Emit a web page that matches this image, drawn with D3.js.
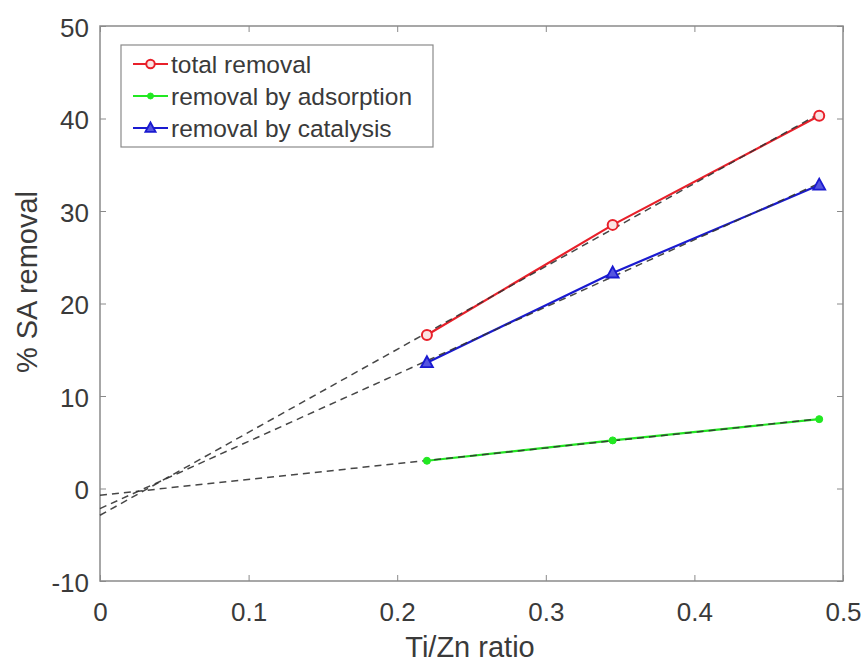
<!DOCTYPE html>
<html><head><meta charset="utf-8">
<script src="https://cdn.jsdelivr.net/npm/d3@7"></script>
<style>body{margin:0;background:#fff;} svg{display:block;font-family:Arial,"Liberation Sans",sans-serif;}</style>
</head><body>
<svg id="c" width="868" height="663"></svg>
<script>
const ratios = [0.22, 0.345, 0.484];
const totalRemoval = [16.6, 28.5, 40.3];
const adsorptionRemoval = [3.0, 5.2, 7.5];
const catalysisRemoval = [13.6, 23.3, 32.8];
const xTicks = [0, 0.1, 0.2, 0.3, 0.4, 0.5];
const yTicks = [-10, 0, 10, 20, 30, 40, 50];
const seriesNames = ["total removal", "removal by adsorption", "removal by catalysis"];

const svg = d3.select("#c");
const L = 100, R = 843, T = 26, B = 581;
const x = d3.scaleLinear().domain([0, 0.5]).range([L, R]);
const y = d3.scaleLinear().domain([-10, 50]).range([B, T]);
const axisCol = "#8a8a8a", textCol = "#3a3a3a";

// box
svg.append("rect").attr("x", L).attr("y", T).attr("width", R - L).attr("height", B - T)
  .attr("fill", "none").attr("stroke", axisCol).attr("stroke-width", 1.5);

const fmt = d => String(d);
const ax = svg.append("g").attr("transform", `translate(0,${B})`)
  .call(d3.axisBottom(x).tickValues(xTicks).tickSize(-6).tickPadding(22).tickFormat(fmt));
const axT = svg.append("g").attr("transform", `translate(0,${T})`)
  .call(d3.axisTop(x).tickValues(xTicks).tickSize(-6).tickFormat(""));
const ay = svg.append("g").attr("transform", `translate(${L},0)`)
  .call(d3.axisLeft(y).tickValues(yTicks).tickSize(-6).tickPadding(11).tickFormat(fmt));
const ayR = svg.append("g").attr("transform", `translate(${R},0)`)
  .call(d3.axisRight(y).tickValues(yTicks).tickSize(-6).tickFormat(""));
[ax, axT, ay, ayR].forEach(g => {
  g.select(".domain").remove();
  g.selectAll("line").attr("stroke", axisCol).attr("stroke-width", 1);
  g.selectAll("text").attr("fill", textCol).style("font-size", "26px");
});
ax.selectAll("text").attr("dy", "0.71em").attr("y", 22);
ay.selectAll("text").attr("dy", "0.4em");

// labels
svg.append("text").attr("x", 470).attr("y", 657).attr("text-anchor", "middle")
  .attr("fill", textCol).style("font-size", "29px").text("Ti/Zn ratio");
svg.append("text").attr("transform", `translate(37,282) rotate(-90)`).attr("text-anchor", "middle")
  .attr("fill", textCol).style("font-size", "29px").text("% SA removal");

const series = [
  {vals: totalRemoval, color: "#e8202a", marker: "circle"},
  {vals: adsorptionRemoval, color: "#22e822", marker: "dot"},
  {vals: catalysisRemoval, color: "#1a1ad0", marker: "tri"}
];

const line = d3.line().x((d, i) => x(ratios[i])).y(d => y(d));

series.forEach(s => {
  svg.append("path").datum(s.vals).attr("d", line).attr("fill", "none")
    .attr("stroke", s.color).attr("stroke-width", 2.2);
});

// linear fits (dashed)
function fit(vals) {
  const mx = d3.mean(ratios), my = d3.mean(vals);
  const sxy = d3.sum(ratios, (r, i) => (r - mx) * (vals[i] - my));
  const sxx = d3.sum(ratios, r => (r - mx) ** 2);
  const b = sxy / sxx; return {a: my - b * mx, b};
}
series.forEach(s => {
  const f = fit(s.vals);
  const x0 = 0, x1 = ratios[ratios.length - 1];
  svg.append("line").attr("x1", x(x0)).attr("y1", y(f.a + f.b * x0))
    .attr("x2", x(x1)).attr("y2", y(f.a + f.b * x1))
    .attr("stroke", "#333").attr("stroke-width", 1.5).attr("stroke-dasharray", "7,5").attr("opacity", 0.9);
});

function drawMarker(g, type, color, cx, cy, k) {
  k = k || 1;
  if (type === "circle") g.append("circle").attr("cx", cx).attr("cy", cy).attr("r", 5 * k)
    .attr("fill", "#fbe3e3").attr("stroke", color).attr("stroke-width", 2);
  else if (type === "dot") g.append("circle").attr("cx", cx).attr("cy", cy).attr("r", 3.5 * k)
    .attr("fill", color).attr("stroke", color).attr("stroke-width", 1);
  else g.append("path").attr("d", `M${cx},${cy - 6.5 * k}L${cx + 6 * k},${cy + 4.5 * k}L${cx - 6 * k},${cy + 4.5 * k}Z`)
    .attr("fill", "#5555e0").attr("stroke", color).attr("stroke-width", 1.8);
}
series.forEach(s => {
  s.vals.forEach((v, i) => drawMarker(svg, s.marker, s.color, x(ratios[i]), y(v)));
});

// legend
const lg = svg.append("g");
lg.append("rect").attr("x", 121).attr("y", 45).attr("width", 312).attr("height", 102)
  .attr("fill", "#fff").attr("stroke", axisCol).attr("stroke-width", 1.2);
series.forEach((s, i) => {
  const ly = 64 + i * 32;
  lg.append("line").attr("x1", 133).attr("x2", 168).attr("y1", ly).attr("y2", ly)
    .attr("stroke", s.color).attr("stroke-width", 2.2);
  drawMarker(lg, s.marker, s.color, 150.5, ly, 0.85);
  lg.append("text").attr("x", 171).attr("y", ly + 8.5).attr("fill", textCol)
    .style("font-size", "24.5px").text(seriesNames[i]);
});
</script>
</body></html>
